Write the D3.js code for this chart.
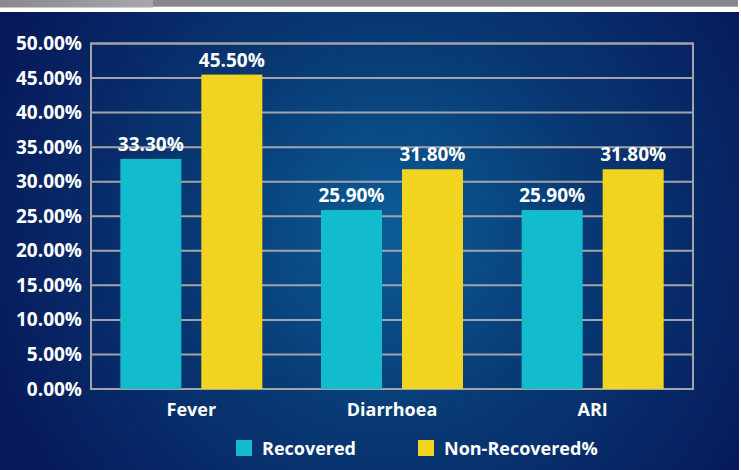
<!DOCTYPE html>
<html>
<head>
<meta charset="utf-8">
<script src="https://cdn.jsdelivr.net/npm/d3@7"></script>
<style>
  html, body { margin: 0; padding: 0; background: #ffffff; }
  svg { display: block; }
  text { font-family: "Open Sans", "DejaVu Sans", sans-serif; font-weight: 700; fill: #ffffff; }
</style>
</head>
<body>
<svg id="chart" width="741" height="470"></svg>
<script>
// Outcome rates by illness
const categories = ["Fever", "Diarrhoea", "ARI"];
const seriesNames = ["Recovered", "Non-Recovered%"];
const recovered = [33.3, 25.9, 25.9];
const nonRecovered = [45.5, 31.8, 31.8];
const tickValues = [0, 5, 10, 15, 20, 25, 30, 35, 40, 45, 50];
const colors = ["#12bccc", "#f1d420"];

const W = 741, H = 470;
const svg = d3.select("#chart");
const defs = svg.append("defs");

// Background: radial glow on navy
const grad = defs.append("radialGradient")
  .attr("id", "bg").attr("gradientUnits", "userSpaceOnUse")
  .attr("cx", 390).attr("cy", 230).attr("r", 430);
grad.append("stop").attr("offset", "0").attr("stop-color", "#0b5c98");
grad.append("stop").attr("offset", "0.45").attr("stop-color", "#083a74");
grad.append("stop").attr("offset", "1").attr("stop-color", "#07185a");

svg.append("rect").attr("x", 0).attr("y", 12).attr("width", W - 2).attr("height", H - 12).attr("fill", "url(#bg)");

// Header strip
const hg = defs.append("linearGradient").attr("id", "hdr");
hg.append("stop").attr("offset", "0").attr("stop-color", "#8a8a8e");
hg.append("stop").attr("offset", "1").attr("stop-color", "#a8a8ac");
svg.append("rect").attr("x", 0).attr("y", 0).attr("width", 153).attr("height", 7.5).attr("fill", "url(#hdr)");
svg.append("rect").attr("x", 153).attr("y", 0).attr("width", 585).attr("height", 6.7).attr("fill", "#86868b");

const margin = { left: 91, top: 43.5, right: 693, bottom: 389 };

const x0 = d3.scaleBand().domain(categories).range([margin.left, margin.right]).paddingInner(0).paddingOuter(0);
const y = d3.scaleLinear().domain([0, 50]).range([margin.bottom, margin.top]);

// Gridlines
svg.append("g").selectAll("line").data(tickValues).join("line")
  .attr("x1", margin.left).attr("x2", margin.right)
  .attr("y1", d => y(d)).attr("y2", d => y(d))
  .attr("stroke", "#a3a4a8").attr("stroke-width", 2);

// Frame
svg.append("rect")
  .attr("x", margin.left).attr("y", margin.top)
  .attr("width", margin.right - margin.left).attr("height", margin.bottom - margin.top)
  .attr("fill", "none").attr("stroke", "#a3a4a8").attr("stroke-width", 2);

const numSize = 19, textSize = 18;

// Y axis labels
const yAxis = d3.axisLeft(y).tickValues(tickValues).tickSize(0).tickPadding(9)
  .tickFormat(d => d3.format(".2f")(d) + "%");
const ya = svg.append("g").attr("transform", `translate(${margin.left},0)`).call(yAxis);
ya.select(".domain").remove();
ya.selectAll("text").attr("font-size", numSize).attr("fill", "#fff")
  .attr("font-family", '"Open Sans", sans-serif').attr("font-weight", 700);

// Bars
const barW = 61, gap = 20;
const series = [recovered, nonRecovered];
const offsets = [-(gap / 2 + barW), gap / 2];
series.forEach((vals, si) => {
  const g = svg.append("g");
  g.selectAll("rect").data(vals).join("rect")
    .attr("x", (d, i) => x0(categories[i]) + x0.bandwidth() / 2 + offsets[si])
    .attr("y", d => y(d))
    .attr("width", barW)
    .attr("height", d => y(0) - y(d))
    .attr("fill", colors[si]);
  g.selectAll("text").data(vals).join("text")
    .attr("x", (d, i) => x0(categories[i]) + x0.bandwidth() / 2 + offsets[si] + barW / 2)
    .attr("y", d => y(d) - 8)
    .attr("text-anchor", "middle")
    .attr("font-size", numSize)
    .text(d => d3.format(".2f")(d) + "%");
});

// Category labels
svg.append("g").selectAll("text").data(categories).join("text")
  .attr("x", d => x0(d) + x0.bandwidth() / 2)
  .attr("y", 416)
  .attr("text-anchor", "middle")
  .attr("font-size", textSize)
  .text(d => d);

// Legend
const legendX = [236, 418];
seriesNames.forEach((name, i) => {
  svg.append("rect").attr("x", legendX[i]).attr("y", 440).attr("width", 16).attr("height", 16).attr("fill", colors[i]);
  svg.append("text").attr("x", legendX[i] + 26).attr("y", 455).attr("font-size", textSize).text(name);
});
</script>
</body>
</html>
